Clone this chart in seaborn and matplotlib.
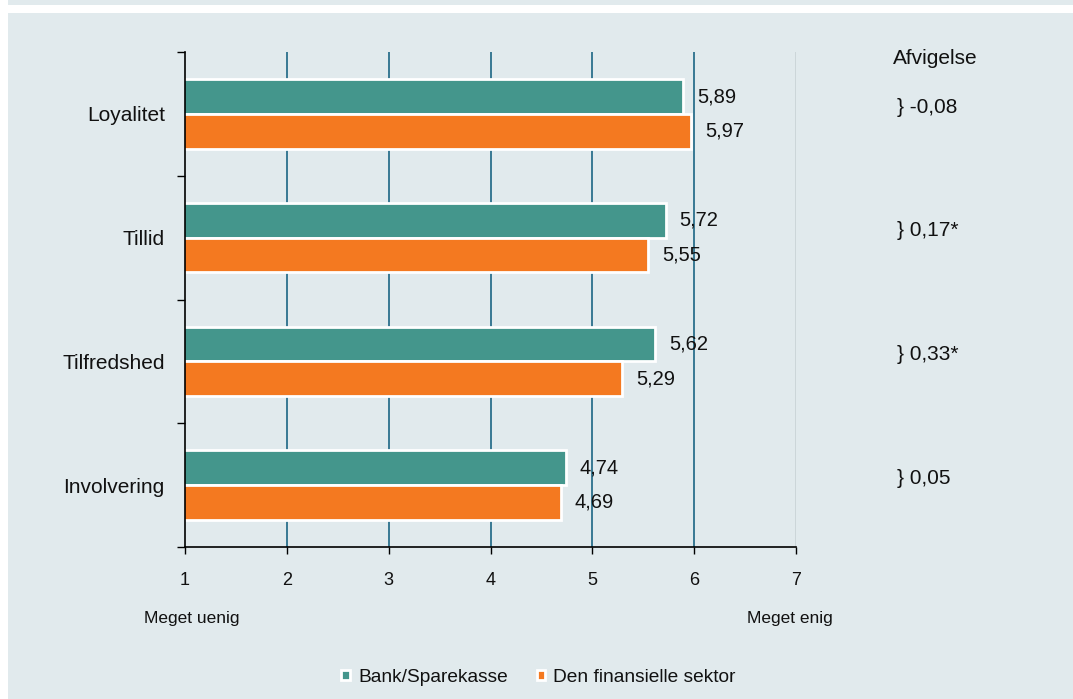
import matplotlib
matplotlib.use("Agg")
import matplotlib.pyplot as plt
import matplotlib.transforms as mtransforms
from matplotlib.patches import Rectangle
import seaborn as sns
import pandas as pd

categories = ["Loyalitet", "Tillid", "Tilfredshed", "Involvering"]
series_names = ["Bank/Sparekasse", "Den finansielle sektor"]
bank_values = [5.89, 5.72, 5.62, 4.74]
sector_values = [5.97, 5.55, 5.29, 4.69]
deviation_labels = ["-0,08", "0,17*", "0,33*", "0,05"]
x_ticks = [1, 2, 3, 4, 5, 6, 7]

teal = "#44968C"
orange = "#F47920"
panel = "#E1EAED"
gridc = "#1B6584"

df = pd.DataFrame({
    "Kategori": categories * 2,
    "Serie": [series_names[0]] * 4 + [series_names[1]] * 4,
    "Værdi": bank_values + sector_values,
})

sns.set_theme(style="white")
plt.rcParams["font.family"] = ["Liberation Sans", "DejaVu Sans"]

fig = plt.figure(figsize=(10.73, 6.99), dpi=100)
fig.patch.set_facecolor("white")
W, H = 1073, 699
fig.patches.append(Rectangle((8 / W, 0), 1 - 8 / W, (H - 13) / H, transform=fig.transFigure,
                             facecolor=panel, edgecolor="none", zorder=-10))
fig.patches.append(Rectangle((8 / W, (H - 5) / H), 1 - 8 / W, 5 / H, transform=fig.transFigure,
                             facecolor=panel, edgecolor="none", zorder=-10))

ax = fig.add_axes([185 / W, 1 - 547 / H, (796 - 185) / W, (547 - 52) / H])
ax.set_facecolor(panel)

sns.barplot(data=df, y="Kategori", x="Værdi", hue="Serie", order=categories,
            hue_order=series_names, palette=[teal, orange], width=0.56,
            orient="h", ax=ax, edgecolor="white", linewidth=2, saturation=1,
            legend=True, zorder=3)

for cont, vals in zip(ax.containers, [bank_values, sector_values]):
    ax.bar_label(cont, labels=[f"{v:.2f}".replace(".", ",") for v in vals],
                 padding=10, fontsize=14.5, color="#111111")

ax.set_xlim(x_ticks[0], x_ticks[-1])
ax.set_ylim(len(categories) - 0.5, -0.5)
ax.set_xticks(x_ticks)
ax.set_xticklabels([str(t) for t in x_ticks], fontsize=13)
ax.set_xlabel("")
ax.set_ylabel("")

ax.grid(axis="x", color=gridc, linewidth=1.2, zorder=1)
ax.grid(axis="y", visible=False)
ax.set_axisbelow(True)
gl = ax.get_xgridlines()
gl[0].set_visible(False)
gl[-1].set_color("#C8D2D6")

for s in ["top", "right"]:
    ax.spines[s].set_visible(False)
for s in ["left", "bottom"]:
    ax.spines[s].set_color("black")
    ax.spines[s].set_linewidth(1.2)
    ax.spines[s].set_zorder(4)

ax.tick_params(axis="x", which="major", direction="out", length=5, width=1, color="black",
               bottom=True, pad=13, labelcolor="#111111")
ax.tick_params(axis="y", which="major", length=0, pad=14.5, labelsize=15, labelcolor="#111111")
ax.set_yticks([i - 0.5 for i in range(len(categories) + 1)], minor=True)
ax.tick_params(axis="y", which="minor", direction="out", length=6, width=1, color="black", left=True)

# Axis end labels
trx = mtransforms.blended_transform_factory(fig.transFigure, ax.transAxes)
ax.text(192 / W, -0.145, "Meget uenig", transform=trx, ha="center", va="center",
        fontsize=12.5, color="#111111")
ax.text(790 / W, -0.145, "Meget enig", transform=trx, ha="center", va="center",
        fontsize=12.5, color="#111111")

# Deviation column
tr = mtransforms.blended_transform_factory(fig.transFigure, ax.transData)
ax.text(935 / W, -0.45, "Afvigelse", transform=tr, ha="center", va="center",
        fontsize=15, color="#111111", clip_on=False)
for i, lab in enumerate(deviation_labels):
    ax.text(897 / W, i - 0.055, "} " + lab, transform=tr, ha="left", va="center",
            fontsize=15, color="#111111", clip_on=False)

# Legend
handles, labels = ax.get_legend_handles_labels()
ax.legend_.remove()
fig.legend(handles, labels, loc="center", bbox_to_anchor=(0.502, 0.031), ncol=2,
           frameon=False, fontsize=13.8, handlelength=0.42, handleheight=0.42,
           handletextpad=0.45, columnspacing=1.5, labelcolor="#111111")

fig.savefig("out.png", dpi=100, facecolor=fig.get_facecolor())
